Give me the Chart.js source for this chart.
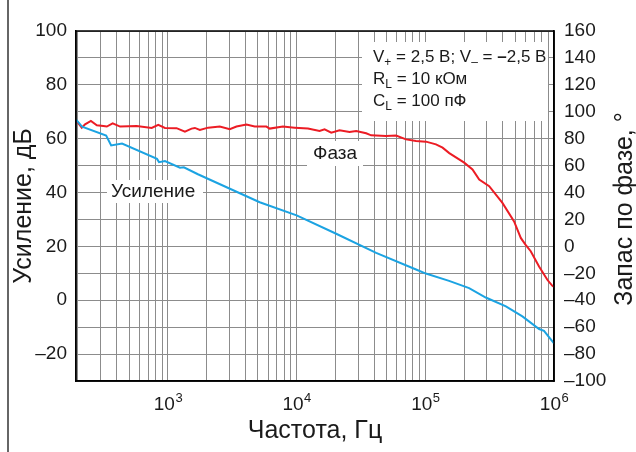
<!DOCTYPE html>
<html>
<head>
<meta charset="utf-8">
<script src="https://cdn.jsdelivr.net/npm/chart.js@4/dist/chart.umd.min.js"></script>
<style>
html,body{margin:0;padding:0;background:#fff;}
canvas{display:block;}
</style>
</head>
<body>
<canvas id="c" width="636" height="452"></canvas>
<script>
// ---- data ----
const freqGain = [194, 215, 331, 362, 440, 822, 852, 948, 1240, 1330, 1710, 5165, 10000, 20300, 41500, 84700, 101000, 153000, 219000, 295000, 423000, 568000, 766000, 836000, 1000000];
const gainDb   = [67, 64.5, 61.2, 57.5, 58.2, 52.5, 51.3, 51.7, 49.2, 49.4, 46.8, 36.4, 31.5, 24.7, 17.6, 11.4, 9.9, 7.2, 4.5, 1.0, -2.3, -6.0, -10.7, -11.4, -16];

const freqPhase = [194, 214, 227, 252, 280, 315, 335, 372, 425, 571, 748, 841, 948, 1167, 1355, 1527, 1620, 1771, 2052, 2528, 3024, 3409, 4074, 4724, 5820, 6177, 7830, 9640, 12240, 15070, 16490, 18580, 21550, 25760, 29030, 34690, 37960, 49560, 59230, 70830, 84700, 101200, 121000, 136200, 153500, 200500, 232600, 262300, 313600, 397400, 489600, 551900, 600000, 659600, 765300, 887500, 971000, 1000000];
const phaseDeg  = [93.5, 88.2, 90.7, 93.2, 90, 89.4, 89, 91.4, 89, 89.4, 88, 90.3, 88, 87.8, 85.3, 87.5, 88, 86.5, 88.2, 89, 87, 89, 90.6, 89, 89, 87.5, 89, 88.2, 87.5, 85.7, 87, 84.5, 86.2, 85, 85.7, 84, 82.5, 82, 82.3, 79.5, 78.3, 77.8, 75.8, 73.3, 69.3, 62.2, 57.2, 49.7, 44.7, 32.3, 18.6, 6.3, 1.3, -3.6, -14.9, -24.8, -29.3, -30];

const leftTickLabels  = [100, 80, 60, 40, 20, 0, -20];
const rightTickLabels = [160, 140, 120, 100, 80, 60, 40, 20, 0, -20, -40, -60, -80, -100];
const xTickExponents  = [3, 4, 5, 6];

const xTitle = 'Частота, Гц';
const yLeftTitle = 'Усиление, дБ';
const yRightTitle = 'Запас по фазе, °';
const gainLabel = 'Усиление';
const phaseLabel = 'Фаза';
const condLines = [
  [{t:'V'},{t:'+',sub:1},{t:' = 2,5 В; V'},{t:'–',sub:1},{t:' = '},{t:'–',bold:1},{t:'2,5 В'}],
  [{t:'R'},{t:'L',sub:1},{t:' = 10 кОм'}],
  [{t:'C'},{t:'L',sub:1},{t:' = 100 пФ'}]
];

// ---- styling ----
const FONT = '"Liberation Sans", Arial, Helvetica, sans-serif';
const RED = '#ec1c24';
const BLUE = '#1ba3e2';
const GRID = '#8c8c8c';

// grid positions for the log axis (1..9 x 10^n)
const xGrid = [];
for (let e = 2; e <= 5; e++) for (let m = 1; m <= 9; m++) { const v = m * Math.pow(10, e); if (v >= 193) xGrid.push(v); }
xGrid.push(1e6);

const minus = v => String(v).replace('-', '–');

function drawRich(ctx, segs, x, y, size) {
  let cx = x;
  for (const s of segs) {
    const fs = s.sub ? Math.round(size * 0.7) : size;
    ctx.font = (s.bold ? 'bold ' : '') + fs + 'px ' + FONT;
    ctx.textAlign = 'left';
    ctx.textBaseline = 'alphabetic';
    ctx.fillText(s.t, cx, s.sub ? y + 4 : y);
    cx += ctx.measureText(s.t).width;
  }
}

const decor = {
  id: 'decor',
  beforeDatasetsDraw(chart) {
    const ctx = chart.ctx;
    ctx.save();
    ctx.fillStyle = '#fff';
    ctx.fillRect(362, 42, 186, 79);
    ctx.fillRect(107, 180, 96, 23);
    ctx.fillRect(307, 141, 56, 25);
    ctx.fillStyle = '#1a1a1a';
    ctx.font = '19px ' + FONT;
    ctx.textBaseline = 'alphabetic';
    ctx.textAlign = 'left';
    ctx.fillText(gainLabel, 111, 197);
    ctx.fillText(phaseLabel, 313, 159);
    const bases = [62, 84, 106];
    condLines.forEach((l, i) => drawRich(ctx, l, 373, bases[i], 17));
    ctx.restore();
  },
  afterDatasetsDraw(chart) {
    const ctx = chart.ctx, a = chart.chartArea;
    ctx.save();
    ctx.strokeStyle = '#000';
    ctx.lineWidth = 1.5;
    ctx.strokeRect(a.left, a.top, a.right - a.left, a.bottom - a.top);
    ctx.restore();
  },
  afterDraw(chart) {
    const ctx = chart.ctx, a = chart.chartArea;
    const xs = chart.scales.x;
    ctx.save();
    // frame line at the left edge of the figure
    ctx.strokeStyle = '#333';
    ctx.lineWidth = 1.5;
    ctx.beginPath();
    ctx.moveTo(8, 0);
    ctx.lineTo(8, 452);
    ctx.stroke();
    ctx.fillStyle = '#1a1a1a';
    // x tick labels 10^n
    for (const e of xTickExponents) {
      const px = xs.getPixelForValue(Math.pow(10, e));
      ctx.font = '19px ' + FONT;
      const w10 = ctx.measureText('10').width;
      ctx.font = '13px ' + FONT;
      const we = ctx.measureText(String(e)).width;
      const start = px - (w10 + we) / 2;
      ctx.textAlign = 'left';
      ctx.font = '19px ' + FONT;
      ctx.fillText('10', start, 410);
      ctx.font = '13px ' + FONT;
      ctx.fillText(String(e), start + w10 + 0.5, 402);
    }
    // titles
    ctx.font = '25px ' + FONT;
    ctx.textAlign = 'center';
    ctx.fillText(xTitle, (a.left + a.right) / 2, 438);
    ctx.save();
    ctx.translate(31, (a.top + a.bottom) / 2);
    ctx.rotate(-Math.PI / 2);
    ctx.fillText(yLeftTitle, 0, 0);
    ctx.restore();
    ctx.save();
    ctx.translate(632, 209);
    ctx.rotate(-Math.PI / 2);
    ctx.fillText(yRightTitle, 0, 0);
    ctx.restore();
    ctx.restore();
  }
};

const tickFont = { family: FONT, size: 19 };

new Chart(document.getElementById('c'), {
  type: 'line',
  data: {
    datasets: [
      { data: freqGain.map((f, i) => ({ x: f, y: gainDb[i] })), yAxisID: 'yL', borderColor: BLUE, borderWidth: 2, pointRadius: 0, tension: 0, fill: false },
      { data: freqPhase.map((f, i) => ({ x: f, y: phaseDeg[i] })), yAxisID: 'yR', borderColor: RED, borderWidth: 2, pointRadius: 0, tension: 0, fill: false }
    ]
  },
  options: {
    responsive: false,
    animation: false,
    devicePixelRatio: 1,
    layout: { padding: { top: 31, left: 0, right: 0, bottom: 0 } },
    plugins: { legend: { display: false }, tooltip: { enabled: false } },
    scales: {
      x: {
        type: 'logarithmic', min: 193, max: 1e6,
        afterBuildTicks: s => { s.ticks = xGrid.map(v => ({ value: v })); },
        ticks: { display: false },
        grid: { color: GRID, lineWidth: 1, drawTicks: false },
        border: { display: true, color: '#000', width: 1.5 },
        afterFit: s => { s.height = 71; }
      },
      yL: {
        position: 'left', min: -30, max: 100,
        ticks: { stepSize: 10, autoSkip: false, padding: 9, font: tickFont, color: '#1a1a1a',
          callback: v => leftTickLabels.includes(v) ? minus(v) : '' },
        grid: { color: GRID, lineWidth: 1, drawTicks: false },
        border: { display: true, color: '#000', width: 1.5 },
        afterFit: s => { s.width = 76; }
      },
      yR: {
        position: 'right', min: -100, max: 160,
        ticks: { stepSize: 20, autoSkip: false, padding: 10, font: tickFont, color: '#1a1a1a',
          callback: v => rightTickLabels.includes(v) ? minus(v) : '' },
        grid: { display: false, drawTicks: false },
        border: { display: true, color: '#000', width: 1.5 },
        afterFit: s => { s.width = 82; }
      }
    }
  },
  plugins: [decor]
});
</script>
</body>
</html>
